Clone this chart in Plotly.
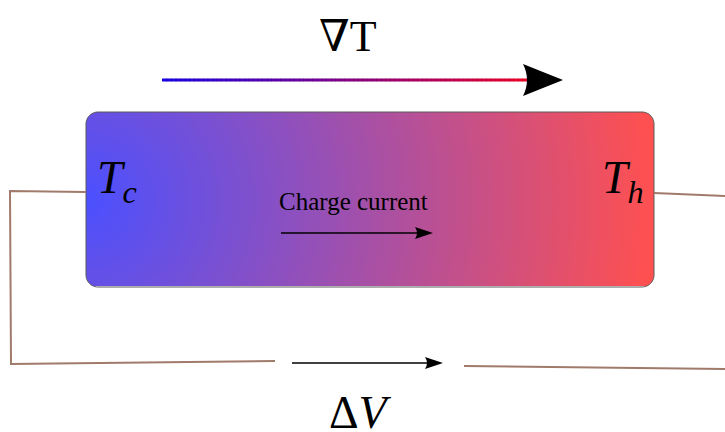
import math
import numpy as np
import plotly.graph_objects as go

# canvas in pixel units, y pointing down
W, H = 725, 432

# sample box (left, top, right, bottom) and corner radius
box = [86, 112, 654, 287]
corner_r = 12
box_colors = ['rgb(75,80,255)', 'rgb(255,80,80)']
glow_center = [86, 200]

# top gradient arrow
grad_x = [162, 527]
grad_y = 80
grad_colors = [(25, 0, 225), (232, 0, 40)]
big_head = [563, 523, 16, 531]  # tip x, back x, half height, notch x

# small black arrows: x start, x tip, y
charge_arrow = [281, 433, 233]
dv_arrow = [292, 443, 363]

# brown wires
wire_color = 'rgb(160,122,106)'
wire_left_x = [86, 10, 11, 275]
wire_left_y = [192, 191, 364, 361]
wire_th_x = [654, 725]
wire_th_y = [193, 196]
wire_br_x = [464, 725]
wire_br_y = [366, 369]

# labels
labels = ['∇T', '<i>T</i><sub><i>c</i></sub>', '<i>T</i><sub><i>h</i></sub>',
          'Charge current', 'Δ<i>V</i>']
label_x = [348, 117, 623, 353, 360]
label_y = [36, 181, 181, 201, 412]
label_size = [44, 46, 46, 25, 46]

serif = 'Liberation Serif, DejaVu Serif, serif'

fig = go.Figure()

# gradient fill of the sample
xs = np.arange(box[0] + 1, box[2], 2)
ys = np.arange(box[1] + 1, box[3], 2)
gx, gy = np.meshgrid(xs, ys)
dist = np.sqrt((gx - glow_center[0]) ** 2 + (gy - glow_center[1]) ** 2)
z = np.clip(dist / (box[2] - box[0]), 0, 1)
fig.add_trace(go.Heatmap(x=xs, y=ys, z=z, zmin=0, zmax=1, zsmooth='best',
                         colorscale=[[0, box_colors[0]], [1, box_colors[1]]],
                         showscale=False, hoverinfo='skip'))

shapes = []

# white masks on the corners, then the rounded border
def arc_pts(cx, cy, a0, a1, n=12):
    return [(cx + corner_r * math.cos(math.radians(a0 + (a1 - a0) * i / n)),
             cy + corner_r * math.sin(math.radians(a0 + (a1 - a0) * i / n))) for i in range(n + 1)]

x0, y0, x1, y1 = box
r = corner_r
corners = [((x0 + r, y0 + r), 180, 270, (x0 - 3, y0 - 3)),
           ((x1 - r, y0 + r), 270, 360, (x1 + 3, y0 - 3)),
           ((x1 - r, y1 - r), 0, 90, (x1 + 3, y1 + 3)),
           ((x0 + r, y1 - r), 90, 180, (x0 - 3, y1 + 3))]
border = []
for (cx, cy), a0, a1, far in corners:
    pts = arc_pts(cx, cy, a0, a1)
    border += pts
    p = 'M {},{} '.format(*far) + ' '.join('L {:.2f},{:.2f}'.format(px, py) for px, py in pts) + ' Z'
    shapes.append(dict(type='path', path=p, fillcolor='white', line=dict(width=0), layer='above'))
# trim heatmap bleed on the straight edges
for rect in [(x0 - 4, y0 - 4, x1 + 4, y0), (x0 - 4, y1, x1 + 4, y1 + 4),
             (x0 - 4, y0, x0, y1), (x1, y0, x1 + 4, y1)]:
    shapes.append(dict(type='rect', x0=rect[0], y0=rect[1], x1=rect[2], y1=rect[3],
                       fillcolor='white', line=dict(width=0), layer='above'))
shapes.append(dict(type='path', layer='above', line=dict(color='#5a5a5a', width=1),
                   path='M ' + ' L '.join('{:.2f},{:.2f}'.format(px, py) for px, py in border) + ' Z'))

# wires, drawn after the masks so they reach the box edge
for wx, wy in [(wire_left_x, wire_left_y), (wire_th_x, wire_th_y), (wire_br_x, wire_br_y)]:
    p = 'M ' + ' L '.join(f'{a},{b}' for a, b in zip(wx, wy))
    shapes.append(dict(type='path', path=p, layer='above', line=dict(color=wire_color, width=2)))

# top arrow with colour gradient
n_seg = 80
for i in range(n_seg):
    t = i / (n_seg - 1)
    c = tuple(int(grad_colors[0][k] + (grad_colors[1][k] - grad_colors[0][k]) * t) for k in range(3))
    xa = grad_x[0] + (grad_x[1] - grad_x[0]) * i / n_seg
    xb = grad_x[0] + (grad_x[1] - grad_x[0]) * (i + 1) / n_seg + 0.6
    shapes.append(dict(type='line', x0=xa, x1=xb, y0=grad_y, y1=grad_y,
                       line=dict(color='rgb(%d,%d,%d)' % c, width=3)))
tip, back, hh, notch = big_head
shapes.append(dict(type='path', fillcolor='black', line=dict(width=0),
                   path=f'M {tip},{grad_y} L {back},{grad_y - hh} Q {notch},{grad_y} {back},{grad_y + hh} Z'))

# small arrows
for xa, xt, ya in [charge_arrow, dv_arrow]:
    shapes.append(dict(type='line', x0=xa, x1=xt - 6, y0=ya, y1=ya,
                       line=dict(color='black', width=1.6)))
    shapes.append(dict(type='path', fillcolor='black', line=dict(width=0),
                       path=f'M {xt},{ya} L {xt - 18},{ya - 6} Q {xt - 14},{ya} {xt - 18},{ya + 6} Z'))

annotations = []
for txt, lx, ly, sz in zip(labels, label_x, label_y, label_size):
    annotations.append(dict(x=lx, y=ly, text=txt, showarrow=False, xanchor='center', yanchor='middle',
                            font=dict(family=serif, size=sz, color='black')))

fig.update_layout(
    width=W, height=H,
    margin=dict(l=0, r=0, t=0, b=0),
    paper_bgcolor='white', plot_bgcolor='white',
    xaxis=dict(range=[0, W], visible=False, fixedrange=True),
    yaxis=dict(range=[H, 0], visible=False, fixedrange=True),
    shapes=shapes, annotations=annotations, showlegend=False,
)

# drop the browser's default page margin so the drawing sits at the top-left corner
fig.write_html("out.html", config={'displayModeBar': False},
               post_script="document.body.style.margin='0';document.body.style.overflow='hidden';")
